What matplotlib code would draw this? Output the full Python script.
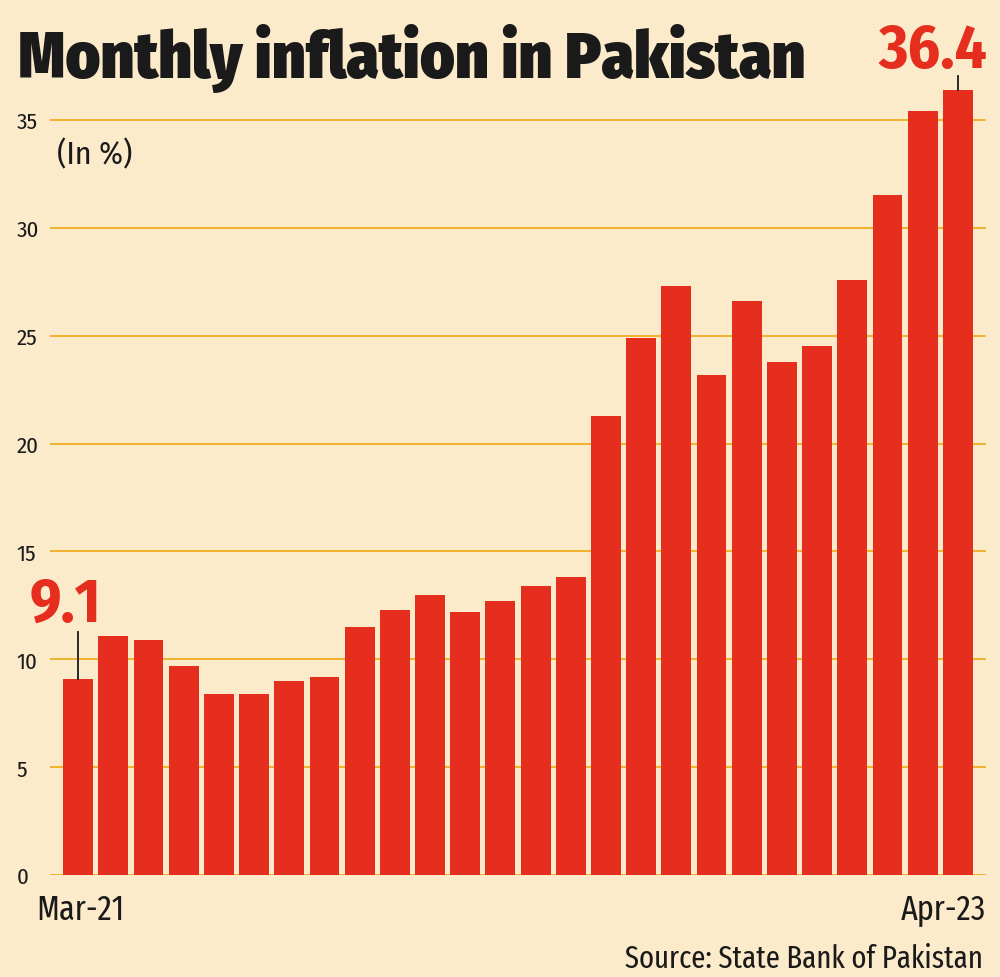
import matplotlib
matplotlib.use("Agg")
import matplotlib.pyplot as plt

months = ["Mar-21", "Apr-21", "May-21", "Jun-21", "Jul-21", "Aug-21", "Sep-21", "Oct-21",
          "Nov-21", "Dec-21", "Jan-22", "Feb-22", "Mar-22", "Apr-22", "May-22", "Jun-22",
          "Jul-22", "Aug-22", "Sep-22", "Oct-22", "Nov-22", "Dec-22", "Jan-23", "Feb-23",
          "Mar-23", "Apr-23"]
inflation = [9.1, 11.1, 10.9, 9.7, 8.4, 8.4, 9.0, 9.2, 11.5, 12.3, 13.0, 12.2, 12.7, 13.4,
             13.8, 21.3, 24.9, 27.3, 23.2, 26.6, 23.8, 24.5, 27.6, 31.5, 35.4, 36.4]
yticks = [0, 5, 10, 15, 20, 25, 30, 35]

FAM = ["Fira Sans Condensed", "DejaVu Sans"]
FAMX = ["Fira Sans Extra Condensed", "Fira Sans Condensed", "DejaVu Sans"]
BG = "#FCEBCA"
RED = "#E52E1E"
GRID = "#F2B22E"
INK = "#1A1A1A"

fig = plt.figure(figsize=(10, 9.78), dpi=100, facecolor=BG)
ax = fig.add_axes([0.05, 0.1043, 0.936, 0.8073], facecolor=BG)

x = list(range(len(inflation)))
ax.set_xlim(-0.8, 25.8)
ax.set_ylim(0, 36.6)
for t in yticks:
    ax.axhline(t, color=GRID, lw=1.4, zorder=1)
ax.bar(x, inflation, width=0.85, color=RED, zorder=2)

for s in ax.spines.values():
    s.set_visible(False)
ax.set_xticks([])
ax.set_yticks(yticks)
ax.set_yticklabels([str(t) for t in yticks], family=FAM, fontsize=16.5, color=INK,
                   fontstretch="condensed", ha="left")
ax.tick_params(axis="y", length=0, pad=24)

# first / last month labels
fig.text(0.036, 1 - 920 / 978, months[0], ha="left", va="baseline", family=FAMX,
         fontsize=25, color=INK, fontstretch="condensed")
fig.text(0.986, 1 - 920 / 978, months[-1], ha="right", va="baseline", family=FAMX,
         fontsize=25, color=INK, fontstretch="condensed")

# highlighted values with leader lines
ax.plot([0, 0], [inflation[0], 11.27], color=INK, lw=1.3, zorder=3)
ax.text(-0.37, 11.78, f"{inflation[0]}", ha="center", va="baseline", family=FAM,
        fontsize=44, fontweight="bold", color=RED, fontstretch="condensed")
ax.plot([25, 25], [inflation[-1], 37.04], color=INK, lw=1.3, zorder=3, clip_on=False)
ax.text(24.3, 37.46, f"{inflation[-1]}", ha="center", va="baseline", family=FAM,
        fontsize=45, fontweight="bold", color=RED, clip_on=False, fontstretch="condensed")

ax.text(-0.6, 33.4, "(In %)", ha="left", va="center", family=FAM, fontsize=23, color=INK,
        fontstretch="condensed")

fig.text(0.018, 1 - 78 / 978, "Monthly inflation in Pakistan", ha="left", va="baseline",
         family=FAM, fontsize=47, fontweight="black", color=INK, fontstretch="condensed")
fig.text(0.983, 1 - 968 / 978, "Source: State Bank of Pakistan", ha="right", va="baseline",
         family=FAMX, fontsize=22.5, color=INK, fontstretch="condensed")

fig.savefig("out.png", dpi=100, facecolor=BG)
